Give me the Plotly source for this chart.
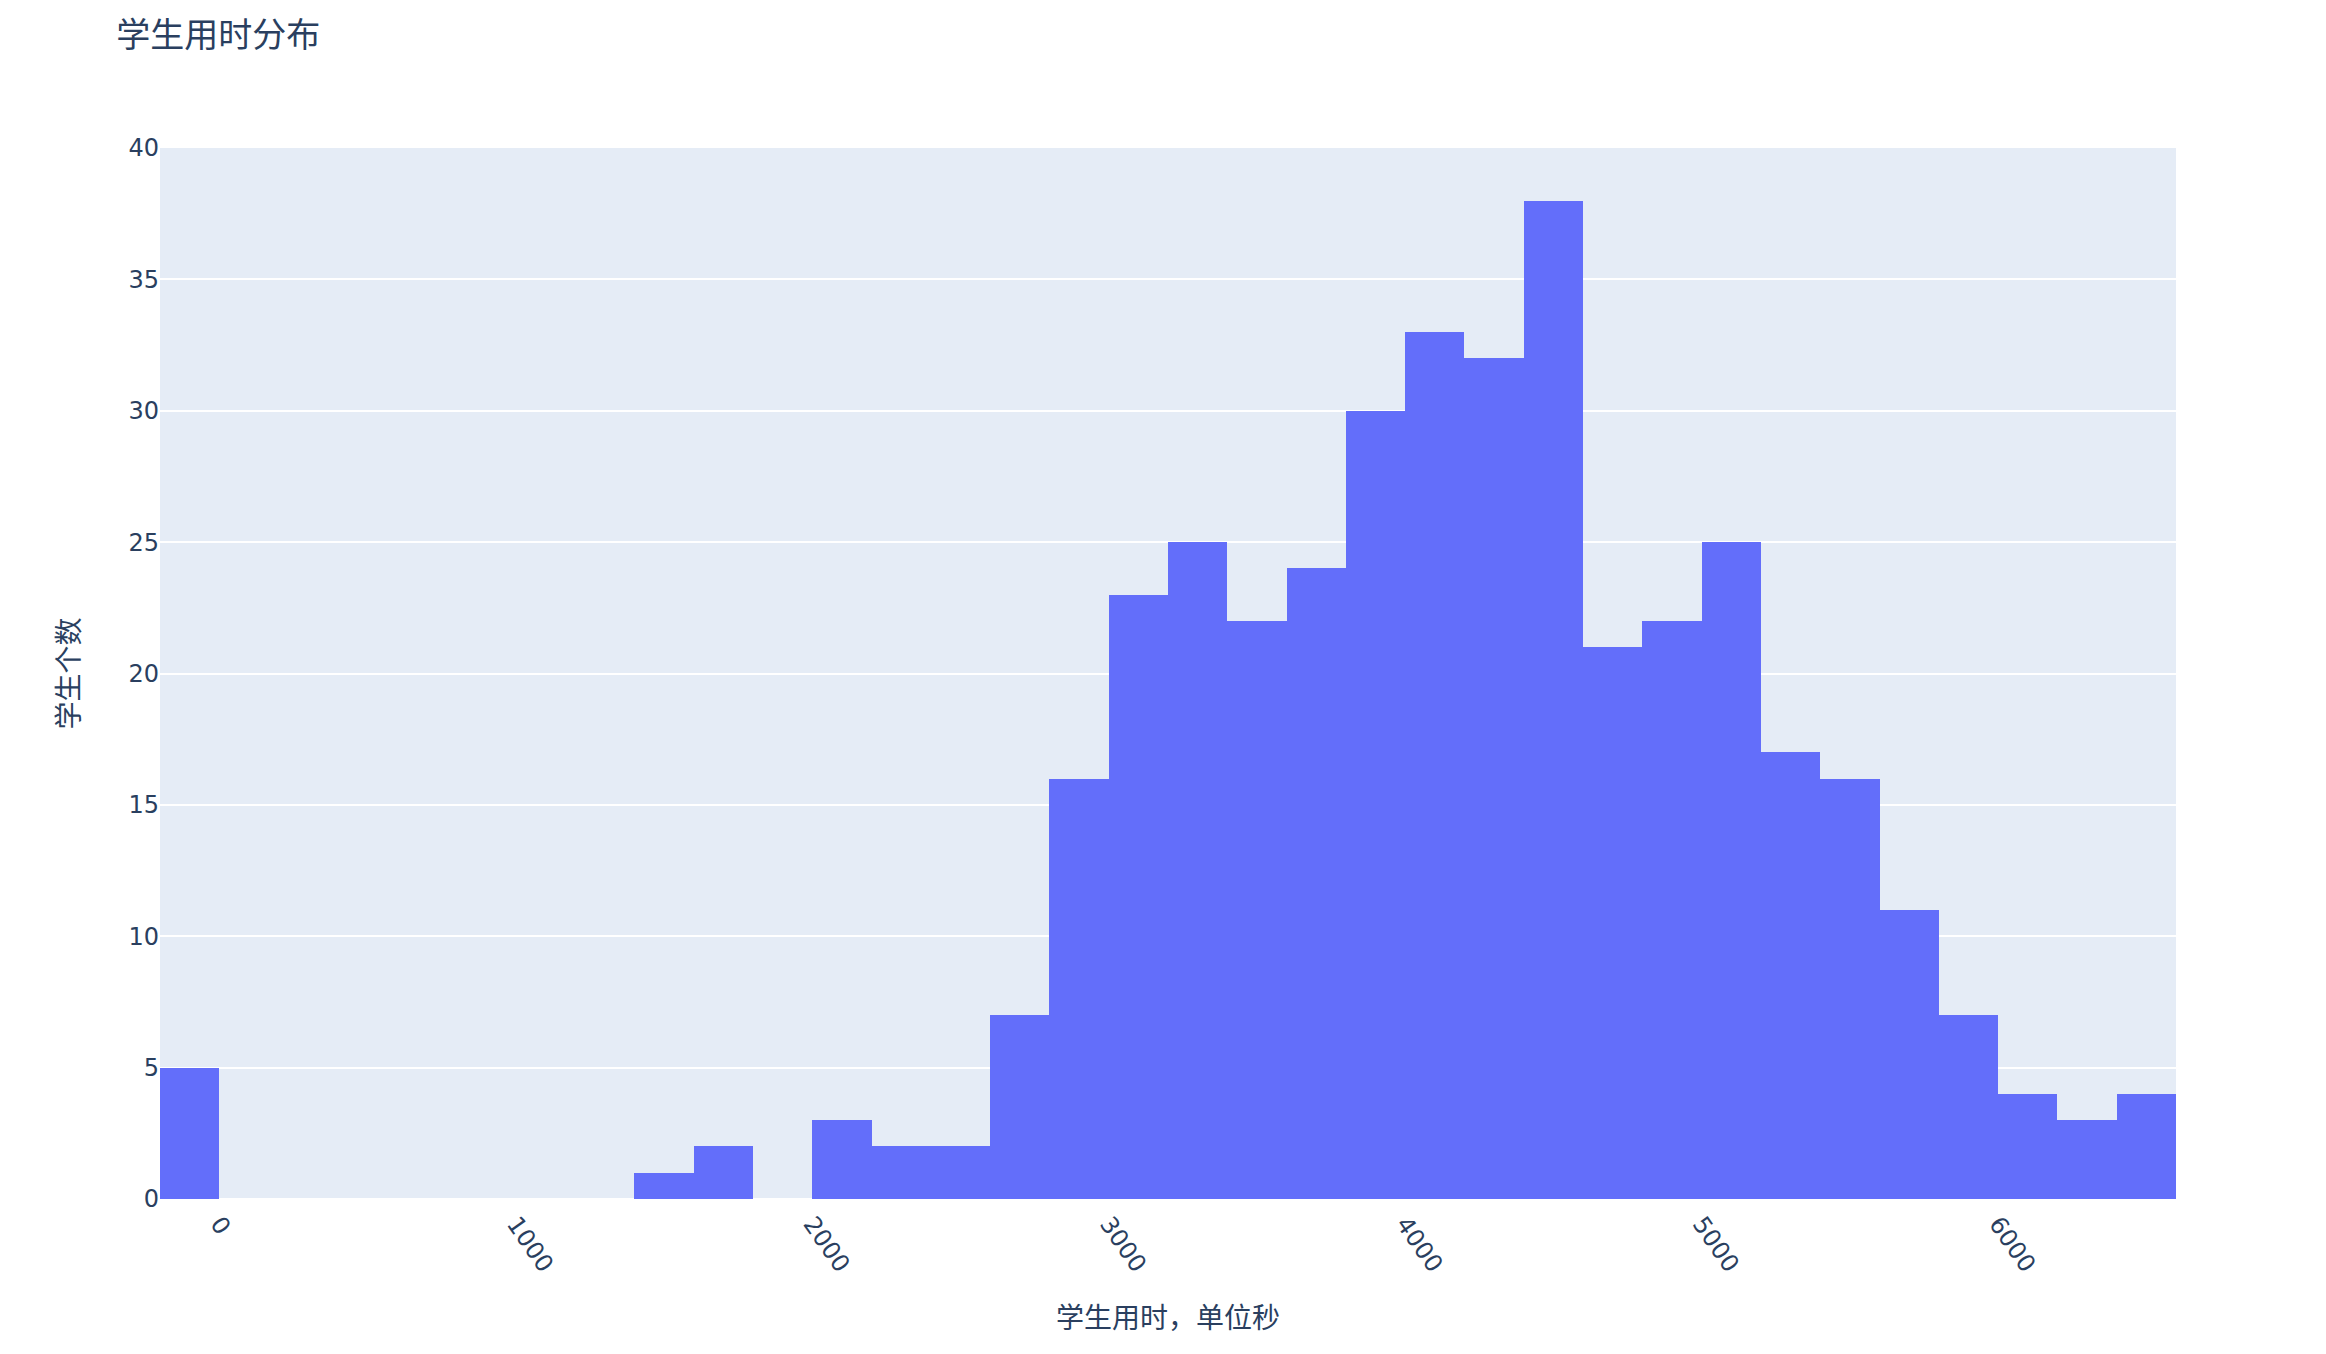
import plotly.graph_objects as go

bin_starts = [-200, 0, 200, 400, 600, 800, 1000, 1200, 1400, 1600, 1800, 2000, 2200, 2400,
              2600, 2800, 3000, 3200, 3400, 3600, 3800, 4000, 4200, 4400, 4600, 4800, 5000,
              5200, 5400, 5600, 5800, 6000, 6200, 6400]
counts = [5, 0, 0, 0, 0, 0, 0, 0, 1, 2, 0, 3, 2, 2,
          7, 16, 23, 25, 22, 24, 30, 33, 32, 38, 21, 22, 25,
          17, 16, 11, 7, 4, 3, 4]
bin_width = 200
centers = [s + bin_width / 2 for s in bin_starts]

fig = go.Figure(go.Bar(x=centers, y=counts, width=bin_width, marker_color="#636efa",
                       marker_line_width=0))

font_family = "DejaVu Sans, Noto Sans CJK SC, sans-serif"
cjk = "Noto Sans CJK SC, DejaVu Sans, sans-serif"
fig.update_layout(
    width=2326, height=1354,
    template="plotly",
    font=dict(family=font_family, size=24, color="#2a3f5f"),
    title=dict(text="学生用时分布", x=0.05, xanchor="left", y=1 - 35 / 1354, yanchor="middle",
               font=dict(size=34, family=cjk)),
    margin=dict(l=160, r=150, t=148, b=155),
    bargap=0,
    plot_bgcolor="#E5ECF6",
    paper_bgcolor="white",
    showlegend=False,
)
fig.update_xaxes(range=[-200, 6600], dtick=1000, tick0=0, tickangle=55, automargin=False,
                 showgrid=False, zeroline=False, ticklabelstandoff=5,
                 title=dict(text="学生用时，单位秒", font=dict(size=28, family=cjk), standoff=32))
fig.update_yaxes(range=[0, 40], dtick=5, automargin=False, gridcolor="white",
                 gridwidth=2, zeroline=True, zerolinecolor="white", zerolinewidth=2,
                 title=dict(text="学生个数", font=dict(size=28, family=cjk), standoff=40))

fig.write_html("out.html", config={"displayModeBar": False},
               post_script="document.body.style.margin='0';")
